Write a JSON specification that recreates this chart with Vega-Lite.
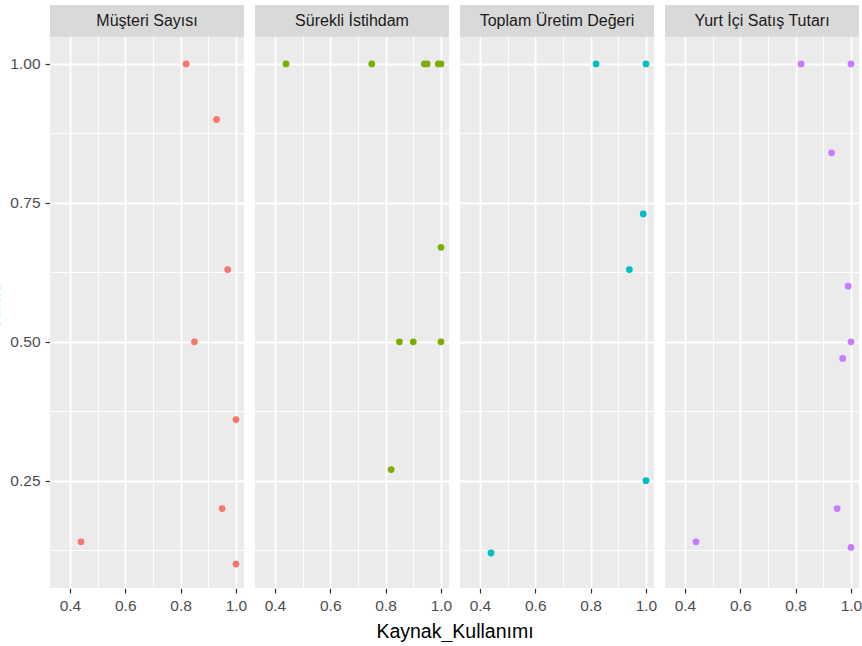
{
  "$schema": "https://vega.github.io/schema/vega-lite/v6.json",
  "background": "#FFFFFF",
  "padding": {"left": -16, "top": 5, "right": 3, "bottom": 0},
  "data": {
    "values": [
      {"Degisken": "Müşteri Sayısı", "Kaynak_Kullanımı": 0.82, "value": 1.00},
      {"Degisken": "Müşteri Sayısı", "Kaynak_Kullanımı": 0.93, "value": 0.90},
      {"Degisken": "Müşteri Sayısı", "Kaynak_Kullanımı": 0.97, "value": 0.63},
      {"Degisken": "Müşteri Sayısı", "Kaynak_Kullanımı": 0.85, "value": 0.50},
      {"Degisken": "Müşteri Sayısı", "Kaynak_Kullanımı": 1.00, "value": 0.36},
      {"Degisken": "Müşteri Sayısı", "Kaynak_Kullanımı": 0.95, "value": 0.20},
      {"Degisken": "Müşteri Sayısı", "Kaynak_Kullanımı": 0.44, "value": 0.14},
      {"Degisken": "Müşteri Sayısı", "Kaynak_Kullanımı": 1.00, "value": 0.10},
      {"Degisken": "Sürekli İstihdam", "Kaynak_Kullanımı": 0.44, "value": 1.00},
      {"Degisken": "Sürekli İstihdam", "Kaynak_Kullanımı": 0.75, "value": 1.00},
      {"Degisken": "Sürekli İstihdam", "Kaynak_Kullanımı": 0.94, "value": 1.00},
      {"Degisken": "Sürekli İstihdam", "Kaynak_Kullanımı": 0.95, "value": 1.00},
      {"Degisken": "Sürekli İstihdam", "Kaynak_Kullanımı": 0.99, "value": 1.00},
      {"Degisken": "Sürekli İstihdam", "Kaynak_Kullanımı": 1.00, "value": 1.00},
      {"Degisken": "Sürekli İstihdam", "Kaynak_Kullanımı": 1.00, "value": 0.67},
      {"Degisken": "Sürekli İstihdam", "Kaynak_Kullanımı": 0.85, "value": 0.50},
      {"Degisken": "Sürekli İstihdam", "Kaynak_Kullanımı": 0.90, "value": 0.50},
      {"Degisken": "Sürekli İstihdam", "Kaynak_Kullanımı": 1.00, "value": 0.50},
      {"Degisken": "Sürekli İstihdam", "Kaynak_Kullanımı": 0.82, "value": 0.27},
      {"Degisken": "Toplam Üretim Değeri", "Kaynak_Kullanımı": 0.82, "value": 1.00},
      {"Degisken": "Toplam Üretim Değeri", "Kaynak_Kullanımı": 1.00, "value": 1.00},
      {"Degisken": "Toplam Üretim Değeri", "Kaynak_Kullanımı": 0.99, "value": 0.73},
      {"Degisken": "Toplam Üretim Değeri", "Kaynak_Kullanımı": 0.94, "value": 0.63},
      {"Degisken": "Toplam Üretim Değeri", "Kaynak_Kullanımı": 1.00, "value": 0.25},
      {"Degisken": "Toplam Üretim Değeri", "Kaynak_Kullanımı": 0.44, "value": 0.12},
      {"Degisken": "Yurt İçi Satış Tutarı", "Kaynak_Kullanımı": 0.82, "value": 1.00},
      {"Degisken": "Yurt İçi Satış Tutarı", "Kaynak_Kullanımı": 1.00, "value": 1.00},
      {"Degisken": "Yurt İçi Satış Tutarı", "Kaynak_Kullanımı": 0.93, "value": 0.84},
      {"Degisken": "Yurt İçi Satış Tutarı", "Kaynak_Kullanımı": 0.99, "value": 0.60},
      {"Degisken": "Yurt İçi Satış Tutarı", "Kaynak_Kullanımı": 1.00, "value": 0.50},
      {"Degisken": "Yurt İçi Satış Tutarı", "Kaynak_Kullanımı": 0.97, "value": 0.47},
      {"Degisken": "Yurt İçi Satış Tutarı", "Kaynak_Kullanımı": 0.95, "value": 0.20},
      {"Degisken": "Yurt İçi Satış Tutarı", "Kaynak_Kullanımı": 0.44, "value": 0.14},
      {"Degisken": "Yurt İçi Satış Tutarı", "Kaynak_Kullanımı": 1.00, "value": 0.13}
    ]
  },
  "facet": {
    "column": {
      "field": "Degisken",
      "type": "nominal",
      "sort": ["Müşteri Sayısı", "Sürekli İstihdam", "Toplam Üretim Değeri", "Yurt İçi Satış Tutarı"],
      "title": "Kaynak_Kullanımı",
      "header": {
        "labels": false,
        "titleOrient": "bottom",
        "titleFont": "Liberation Sans",
        "titleFontSize": 19.5,
        "titleFontWeight": "normal",
        "titleColor": "#000000",
        "titlePadding": -1
      }
    }
  },
  "spacing": {"column": 11},
  "spec": {
    "width": 194,
    "height": 583,
    "resolve": {"axis": {"x": "independent", "y": "independent"}},
    "layer": [
      {
        "mark": {"type": "point", "filled": true, "opacity": 0},
        "encoding": {
          "x": {
            "field": "Kaynak_Kullanımı", "type": "quantitative",
            "scale": {"domain": [0.328, 1.029], "nice": false, "zero": false},
            "axis": {"orient": "top", "title": null, "labels": false, "ticks": false, "domain": false,
                     "grid": true, "values": [0.3, 0.5, 0.7, 0.9], "gridColor": "#FFFFFF", "gridWidth": 0.9}
          },
          "y": {
            "field": "value", "type": "quantitative",
            "scale": {"domain": [0.057, 1.106], "nice": false, "zero": false},
            "axis": {"orient": "right", "title": null, "labels": false, "ticks": false, "domain": false,
                     "grid": true, "values": [0.125, 0.375, 0.625, 0.875], "gridColor": "#FFFFFF", "gridWidth": 0.9}
          }
        }
      },
      {
        "transform": [{"aggregate": [], "groupby": ["Degisken"]}],
        "layer": [
          {
            "mark": {"type": "rect", "color": "#D9D9D9"},
            "encoding": {
              "y": {"datum": 1.049, "type": "quantitative", "axis": null},
              "y2": {"datum": 1.106}
            }
          },
          {
            "mark": {"type": "text", "font": "Liberation Sans", "fontSize": 16, "color": "#1A1A1A", "baseline": "middle"},
            "encoding": {
              "y": {"datum": 1.0775, "type": "quantitative", "axis": null},
              "text": {"field": "Degisken", "type": "nominal"}
            }
          }
        ]
      },
      {
        "mark": {"type": "circle", "opacity": 1, "size": 46},
        "encoding": {
          "x": {
            "field": "Kaynak_Kullanımı", "type": "quantitative",
            "axis": {"orient": "bottom", "title": null, "values": [0.4, 0.6, 0.8, 1.0], "format": ".1f",
                     "grid": true, "gridColor": "#FFFFFF", "gridWidth": 1.8, "domain": false,
                     "tickColor": "#333333", "tickWidth": 1.2, "tickSize": 5,
                     "labelFont": "Liberation Sans", "labelFontSize": 15.5, "labelColor": "#4D4D4D", "labelPadding": 5,
                     "labelFlush": false}
          },
          "y": {
            "field": "value", "type": "quantitative",
            "axis": {"orient": "left", "title": "value", "values": [0.25, 0.5, 0.75, 1.0], "format": ".2f",
                     "grid": true, "gridColor": "#FFFFFF", "gridWidth": 1.8, "domain": false,
                     "tickColor": "#333333", "tickWidth": 1.2, "tickSize": 5,
                     "labelFont": "Liberation Sans", "labelFontSize": 15.5, "labelColor": "#4D4D4D", "labelPadding": 5,
                     "titleFont": "Liberation Sans", "titleFontSize": 19, "titleFontWeight": "normal",
                     "titleColor": "#33E0EA", "titlePadding": 6, "titleY": 300}
          },
          "color": {
            "field": "Degisken", "type": "nominal",
            "scale": {"domain": ["Müşteri Sayısı", "Sürekli İstihdam", "Toplam Üretim Değeri", "Yurt İçi Satış Tutarı"],
                      "range": ["#F8766D", "#7CAE00", "#00BFC4", "#C77CFF"]},
            "legend": null
          }
        }
      }
    ]
  },
  "config": {
    "view": {"stroke": null, "fill": "#EBEBEB"},
    "axis": {"labelOverlap": false}
  }
}
